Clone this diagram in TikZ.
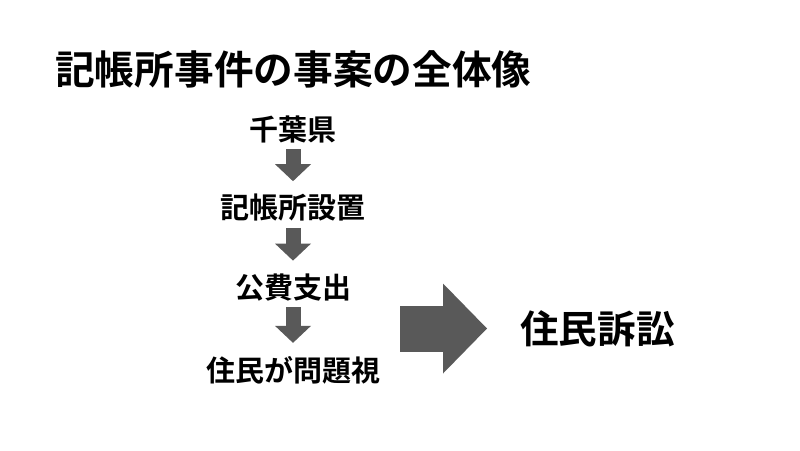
\documentclass[tikz,border=0pt]{standalone}
\usepackage{fontspec}
\usepackage{tikz}
\usetikzlibrary{arrows.meta,positioning}
\newfontfamily\jpfont{Noto Sans CJK JP}[BoldFont={Noto Sans CJK JP Bold}]
\definecolor{arrowgray}{HTML}{595959}

\begin{document}
\begin{tikzpicture}[
  x=1pt, y=-1pt,
  every node/.style={inner sep=0pt, font=\jpfont\bfseries},
  flowtext/.style={font=\jpfont\bfseries\fontsize{29}{32}\selectfont},
  downarrow/.style={draw=arrowgray, line width=15pt,
    -{Triangle[length=17pt, width=36pt, line width=0pt]},
    shorten <=6pt, shorten >=13pt},
  bigarrow/.style={draw=arrowgray, line width=46pt,
    -{Triangle[length=44pt, width=90pt, line width=0pt]}},
]
\useasboundingbox (0,0) rectangle (800,450);
\node[anchor=west, font=\jpfont\bfseries\fontsize{39.7}{44}\selectfont] (title) at (55,69) {記帳所事件の事案の全体像};
% flow
\node[flowtext] (chiba) at (293,129.5) {千葉県};
\node[flowtext] (kichou) at (293,208) {記帳所設置};
\node[flowtext] (kouhi) at (293,287.5) {公費支出};
\node[flowtext] (jumin) at (293,370) {住民が問題視};
\draw[downarrow] (chiba) -- (kichou);
\draw[downarrow] (kichou) -- (kouhi);
\draw[downarrow] (kouhi) -- (jumin);
% result
\node[anchor=west, font=\jpfont\bfseries\fontsize{38.6}{42}\selectfont] (soshou) at (520,329) {住民訴訟};
\coordinate (bigstart) at (400,328.5);
\draw[bigarrow, shorten >=33pt] (bigstart) -- (bigstart -| soshou.west);
\end{tikzpicture}
\end{document}
